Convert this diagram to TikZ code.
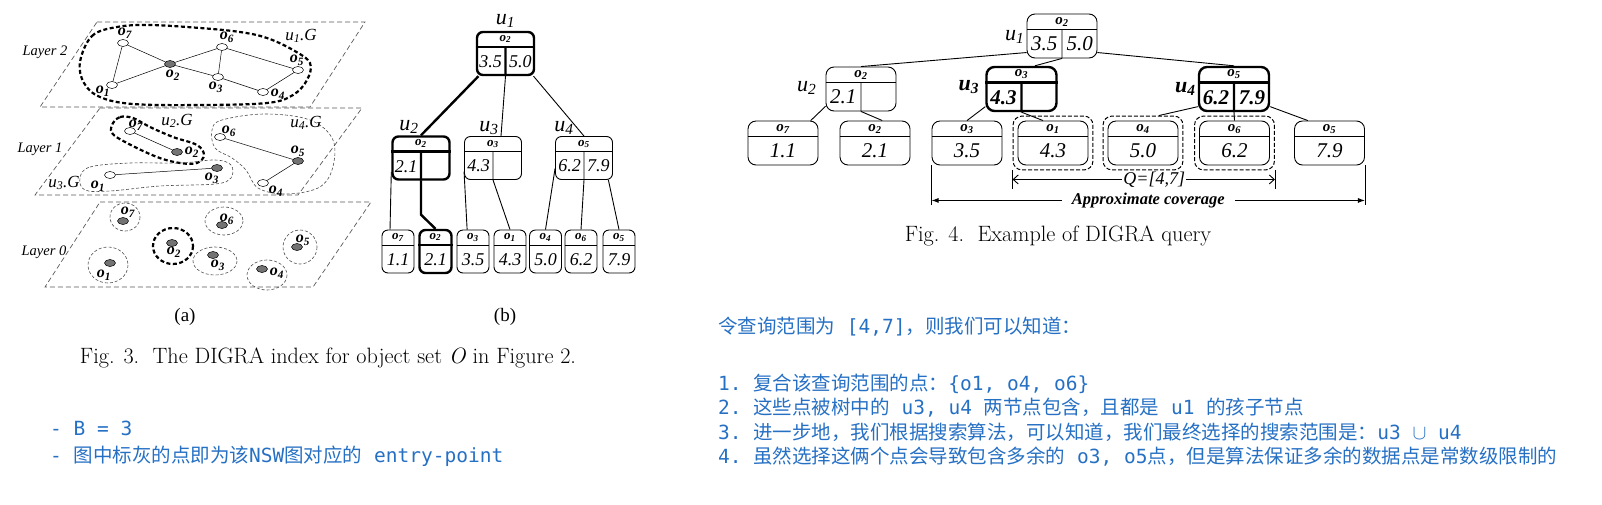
\documentclass[tikz,border=0pt]{standalone}
\usepackage{fontspec}
\usepackage{tikz}
\usetikzlibrary{arrows.meta,positioning,shapes.geometric,fit,calc}

\newfontfamily\tms{Liberation Serif}
\newfontfamily\cjk{Noto Sans CJK SC}
\newfontfamily\lat{DejaVu Sans Mono}
\definecolor{notes}{RGB}{38,112,196}

\newcommand{\os}[1]{o\textsubscript{#1}}
\newcommand{\us}[1]{u\textsubscript{#1}}

% inner tree node: name, box style, weight, centre, header, left, right
\newcommand{\treenode}[7]{%
  \node[#2,#3] (#1) at #4 {};
  \draw[#3] ($(#1.north west)!.36!(#1.south west)$) coordinate (#1-l)
    -- ($(#1.north east)!.36!(#1.south east)$) coordinate (#1-r);
  \coordinate (#1-m) at ($(#1-l)!.5!(#1-r)$);
  \draw[#3] (#1-m) -- (#1.south);
  \node[#2 hdr] (#1-h) at ($(#1.north)!.5!(#1-m)$) {#5};
  \node[#2 val] (#1-a) at ($(#1-l)!.5!(#1.south)$) {#6};
  \node[#2 val] (#1-b) at ($(#1-r)!.5!(#1.south)$) {#7};
}
% leaf: name, box style, weight, centre, header, value
\newcommand{\treeleaf}[6]{%
  \node[#2,#3] (#1) at #4 {};
  \draw[#3] ($(#1.north west)!.36!(#1.south west)$) coordinate (#1-l)
    -- ($(#1.north east)!.36!(#1.south east)$) coordinate (#1-r);
  \coordinate (#1-m) at ($(#1-l)!.5!(#1-r)$);
  \node[#2 hdr] (#1-h) at ($(#1.north)!.5!(#1-m)$) {#5};
  \node[#2 val] (#1-a) at ($(#1-m)!.5!(#1.south)$) {#6};
}

\begin{document}
\begin{tikzpicture}[x=1pt,y=-1pt,
  layer/.style={draw=black!65,dash pattern=on 5pt off 3pt,line width=0.7pt},
  pt/.style={ellipse,draw,fill=white,minimum width=11pt,minimum height=7pt,
             inner sep=0pt,line width=0.5pt},
  gpt/.style={pt,fill=black!55},
  gedge/.style={line width=0.5pt},
  olab/.style={font=\tms\bfseries\itshape\fontsize{16}{18}\selectfont,inner sep=0pt},
  glab/.style={font=\tms\itshape\fontsize{17}{19}\selectfont,inner sep=0pt},
  laylab/.style={font=\tms\itshape\fontsize{14.5}{16}\selectfont,inner sep=0pt},
  hblob/.style={line width=2.2pt,dash pattern=on 4pt off 2.5pt},
  lblob/.style={draw=black!70,line width=0.6pt,dash pattern=on 3pt off 2pt},
  lite/.style={line width=0.9pt},
  heavy/.style={line width=2.4pt},
  mnode/.style={draw,fill=white,rounded corners=6pt,minimum width=57pt,
                minimum height=43pt,inner sep=0pt},
  mleaf/.style={mnode,minimum width=32pt},
  rnode/.style={draw,fill=white,rounded corners=8pt,minimum width=70pt,
                minimum height=44pt,inner sep=0pt},
  rleaf/.style={rnode},
  mnode hdr/.style={font=\tms\bfseries\itshape\fontsize{13}{14}\selectfont,inner sep=0pt},
  mnode val/.style={font=\tms\itshape\fontsize{18}{20}\selectfont,inner sep=0pt},
  mleaf hdr/.style={mnode hdr},
  mleaf val/.style={mnode val},
  rnode hdr/.style={font=\tms\bfseries\itshape\fontsize{15}{16}\selectfont,inner sep=0pt},
  rnode val/.style={font=\tms\itshape\fontsize{21}{23}\selectfont,inner sep=0pt},
  rleaf hdr/.style={rnode hdr},
  rleaf val/.style={rnode val},
  ulab/.style={font=\tms\itshape\fontsize{22}{24}\selectfont,inner sep=0pt},
  qbox/.style={draw,rounded corners=9pt,dash pattern=on 4pt off 2pt,
               line width=1pt,inner sep=4.5pt},
  dimlab/.style={font=\tms\itshape\fontsize{18}{20}\selectfont,fill=white},
  sublab/.style={font=\tms\fontsize{19}{21}\selectfont,inner sep=0pt},
  capt/.style={font=\fontsize{22.2}{25}\selectfont,inner sep=0pt},
  note/.style={font=\cjk\fontsize{19.5}{21}\selectfont,text=notes,inner sep=0pt,anchor=west},
  bignote/.style={note,font=\cjk\fontsize{19.5}{21}\selectfont}]
\useasboundingbox (0,0) rectangle (1602,504);

% ---- (a) layered graphs
\draw[layer] (97,22) -- (365,22) -- (310,107) -- (40,107) -- cycle;
\draw[layer] (100,108) -- (362,108) -- (298,195) -- (35,195) -- cycle;
\draw[layer] (100,202) -- (371,202) -- (313,287) -- (45,287) -- cycle;
\node[laylab] (lay2) at (45,52) {Layer 2};
\node[laylab] (lay1) at (40,149) {Layer 1};
\node[laylab] (lay0) at (44,252) {Layer 0};

% layer 2
\draw[hblob] plot[smooth cycle,tension=0.6] coordinates {(80,62) (92,36) (117,27)
  (150,25) (200,28) (240,32) (267,38) (293,50) (310,63) (307,80) (293,95)
  (267,103) (200,105) (133,104) (100,97) (84,83)};
\node[glab] (g1) at (301,36) {\us{1}.G};
\node[pt] (a7) at (123,43) {};
\node[gpt] (a2) at (170,64) {};
\node[pt] (a6) at (222,47) {};
\node[pt] (a5) at (298,70) {};
\node[pt] (a3) at (218,77) {};
\node[pt] (a4) at (263,92) {};
\node[pt] (a1) at (112,85) {};
\draw[gedge] (a7) -- (a1) (a7) -- (a2) (a1) -- (a2) (a2) -- (a6) (a2) -- (a3)
  (a6) -- (a3) (a6) -- (a5) (a3) -- (a4) (a4) -- (a5);
\node[olab] (a7l) at (125,33) {\os{7}};
\node[olab] (a2l) at (173,75) {\os{2}};
\node[olab] (a6l) at (227,37) {\os{6}};
\node[olab] (a5l) at (297,60) {\os{5}};
\node[olab] (a3l) at (216,87) {\os{3}};
\node[olab] (a4l) at (278,94) {\os{4}};
\node[olab] (a1l) at (103,91) {\os{1}};

% layer 1
\draw[hblob] plot[smooth cycle,tension=0.6] coordinates {(113,123) (120,117)
  (133,118) (150,127) (173,137) (197,145) (204,155) (197,163) (180,163)
  (157,157) (127,143) (112,133)};
\draw[lblob] plot[smooth cycle,tension=0.6] coordinates {(222,120) (265,114)
  (310,120) (333,140) (332,170) (318,188) (285,194) (258,188) (246,170)
  (232,158) (215,148) (212,130)};
\draw[lblob] plot[smooth cycle,tension=0.6] coordinates {(80,178) (90,167)
  (130,163) (180,163) (215,160) (231,165) (231,178) (215,184) (160,186)
  (110,191) (85,190)};
\node[glab] (g2) at (177,121) {\us{2}.G};
\node[glab] (g4) at (306,123) {\us{4}.G};
\node[glab] (g3) at (64,183) {\us{3}.G};
\node[pt] (b7) at (130,131) {};
\node[gpt] (b2) at (177,152) {};
\node[pt] (b6) at (220,137) {};
\node[gpt] (b5) at (298,161) {};
\node[pt] (b4) at (263,183) {};
\node[pt] (b1) at (110,175) {};
\node[gpt] (b3) at (217,168) {};
\draw[gedge] (b7) -- (b2) (b1) -- (b3) (b6) -- (b5) (b5) -- (b4);
\node[olab] (b7l) at (136,125) {\os{7}};
\node[olab] (b2l) at (192,152) {\os{2}};
\node[olab] (b6l) at (229,131) {\os{6}};
\node[olab] (b5l) at (298,151) {\os{5}};
\node[olab] (b3l) at (212,178) {\os{3}};
\node[olab] (b1l) at (98,186) {\os{1}};
\node[olab] (b4l) at (276,191) {\os{4}};

% layer 0
\draw[lblob] (125,217) ellipse[x radius=15,y radius=14];
\draw[lblob] (224,221) ellipse[x radius=19,y radius=14];
\draw[hblob] (173,246) ellipse[x radius=20,y radius=18];
\draw[lblob] (300,247) ellipse[x radius=17,y radius=17];
\draw[lblob] (215,261) ellipse[x radius=22,y radius=14];
\draw[lblob] (108,265) ellipse[x radius=20,y radius=18];
\draw[lblob] (267,275) ellipse[x radius=20,y radius=15];
\node[gpt] (c7) at (123,221) {};
\node[gpt] (c6) at (222,225) {};
\node[gpt] (c2) at (172,243) {};
\node[gpt] (c5) at (297,247) {};
\node[gpt] (c3) at (213,255) {};
\node[gpt] (c1) at (110,263) {};
\node[gpt] (c4) at (262,269) {};
\node[olab] (c7l) at (128,212) {\os{7}};
\node[olab] (c6l) at (227,219) {\os{6}};
\node[olab] (c2l) at (174,252) {\os{2}};
\node[olab] (c5l) at (303,240) {\os{5}};
\node[olab] (c3l) at (218,265) {\os{3}};
\node[olab] (c1l) at (104,275) {\os{1}};
\node[olab] (c4l) at (277,273) {\os{4}};

% ---- (b) index tree
\treenode{mu1}{mnode}{heavy}{(505.5,53.5)}{\os{2}}{3.5}{5.0}
\treenode{mu2}{mnode}{heavy}{(421,158)}{\os{2}}{2.1}{}
\treenode{mu3}{mnode}{lite}{(493,158)}{\os{3}}{4.3}{}
\treenode{mu4}{mnode}{lite}{(584,158)}{\os{5}}{6.2}{7.9}
\treeleaf{ml7}{mleaf}{lite}{(398,251.5)}{\os{7}}{1.1}
\treeleaf{ml2}{mleaf}{heavy}{(435.5,251.5)}{\os{2}}{2.1}
\treeleaf{ml3}{mleaf}{lite}{(473,251.5)}{\os{3}}{3.5}
\treeleaf{ml1}{mleaf}{lite}{(510,251.5)}{\os{1}}{4.3}
\treeleaf{ml4}{mleaf}{lite}{(545.5,251.5)}{\os{4}}{5.0}
\treeleaf{ml6}{mleaf}{lite}{(581,251.5)}{\os{6}}{6.2}
\treeleaf{ml5}{mleaf}{lite}{(619,251.5)}{\os{5}}{7.9}
\node[ulab,anchor=base] (mu1t) at ([yshift=6pt]mu1.north) {\us{1}};
\node[ulab,anchor=base] (mu2t) at ([xshift=-12pt,yshift=5pt]mu2.north) {\us{2}};
\node[ulab,anchor=base] (mu3t) at ([xshift=-4pt,yshift=5pt]mu3.north) {\us{3}};
\node[ulab,anchor=base] (mu4t) at ([xshift=-20pt,yshift=5pt]mu4.north) {\us{4}};
\draw[heavy] (mu1.220) -- (mu2.north);
\draw[lite] (mu1.south) -- (mu3.70);
\draw[lite] (mu1.-39) -- (mu4.north);
\draw[lite] (mu2.205) -- (ml7.110);
\draw[heavy] (mu2.south) -- ([yshift=-34pt]mu2.south) -- (ml2.north);
\draw[lite] (mu3.205) -- (ml3.105);
\draw[lite] (mu3.south) -- (ml1.north);
\draw[lite] (mu4.200) -- (ml4.north);
\draw[lite] (mu4.south) -- (ml6.north);
\draw[lite] (mu4.-42) -- (ml5.north);
\node[sublab] (suba) at (185,317) {(a)};
\node[sublab] (subb) at (505,317) {(b)};
\node[capt] (cap3) at (328,358) {Fig. 3.\ \ The DIGRA index for object set \textit{O} in Figure 2.};

% ---- query example
\treenode{ru1}{rnode}{lite}{(1062,36)}{\os{2}}{3.5}{5.0}
\treenode{ru2}{rnode}{lite}{(861,89)}{\os{2}}{2.1}{}
\treenode{ru3}{rnode}{heavy}{(1021.5,89)}{\os{3}}{\bfseries 4.3}{}
\treenode{ru4}{rnode}{heavy}{(1234,89)}{\os{5}}{\bfseries 6.2}{\bfseries 7.9}
\treeleaf{rl7}{rleaf}{lite}{(783,143)}{\os{7}}{1.1}
\treeleaf{rl2}{rleaf}{lite}{(875,143)}{\os{2}}{2.1}
\treeleaf{rl3}{rleaf}{lite}{(967,143)}{\os{3}}{3.5}
\treeleaf{rl1}{rleaf}{lite}{(1053,143)}{\os{1}}{4.3}
\treeleaf{rl4}{rleaf}{lite}{(1143,143)}{\os{4}}{5.0}
\treeleaf{rl6}{rleaf}{lite}{(1234.5,143)}{\os{6}}{6.2}
\treeleaf{rl5}{rleaf}{lite}{(1329.5,143)}{\os{5}}{7.9}
\node[qbox,fit=(rl1)] (q1) {};
\node[qbox,fit=(rl4)] (q4) {};
\node[qbox,fit=(rl6)] (q6) {};
\node[ulab,anchor=base east] (ru1t) at ([xshift=-2pt,yshift=-4pt]ru1.west) {\us{1}};
\node[ulab,anchor=base east] (ru2t) at ([xshift=-9pt,yshift=-2pt]ru2.west) {\us{2}};
\node[ulab,anchor=base east] (ru3t) at ([xshift=-6pt,yshift=-1pt]ru3.west) {\bfseries\us{3}};
\node[ulab,anchor=base east] (ru4t) at ([xshift=-2pt,yshift=-3pt]ru4.west) {\bfseries\us{4}};
\draw[lite] (ru1.205) -- (ru2.north);
\draw[lite] (ru1.south) -- (ru3.60);
\draw[lite] (ru1.-25) -- (ru4.north);
\draw[lite] (ru2.206) -- (rl7.39);
\draw[lite] (ru2.south) -- (rl2.72);
\draw[lite] (ru3.206) -- (rl3.north);
\draw[lite] (ru3.south) -- (rl1.114);
\draw[lite] (ru4.206) -- (q4.60);
\draw[lite] (ru4.south) -- (rl6.north);
\draw[lite] (ru4.-26) -- (rl5.134);

% query range and coverage
\coordinate (qa) at ([yshift=-19pt]q1.south west);
\coordinate (qb) at ([yshift=-19pt]q6.south east);
\draw[lite] (q1.south west) -- (qa);
\draw[lite] (q6.south east) -- (qb);
\draw[lite,{Straight Barb[length=5pt,width=9pt]}-{Straight Barb[length=5pt,width=9pt]}]
  ([yshift=10pt]qa) -- ([yshift=10pt]qb)
  node[dimlab,pos=0.54,inner sep=1pt] (qtext) {Q=[4,7]};
\coordinate (ca) at ([yshift=-40pt]rl3.south west);
\coordinate (cb) at ([yshift=-40pt]rl5.south east);
\draw[lite] (rl3.south west) -- (ca);
\draw[lite] (rl5.south east) -- (cb);
\draw[lite,{Latex[length=7pt,width=5pt]}-{Latex[length=7pt,width=5pt]}]
  ([yshift=5pt]ca) -- ([yshift=5pt]cb)
  node[dimlab,pos=0.5,inner xsep=10pt,inner ysep=1pt,font=\tms\bfseries\itshape\fontsize{16.5}{18}\selectfont] (ctext) {Approximate coverage};
\node[capt] (cap4) at (1058,236) {Fig. 4.\ \ Example of DIGRA query};

% ---- notes
\node[bignote] (nb) at (50,428) {{\lat - B = 3}};
\node[bignote] (ne) at (50,456) {{\lat -\ }图中标灰的点即为该{\lat NSW}图对应的{\lat\ entry-point}};
\node[note] (nq) at (718,327) {令查询范围为{\lat\ [4,7]}，则我们可以知道：};
\node[note] (n1) at (718,384) {{\lat 1.\ }复合该查询范围的点：{\lat\{o1, o4, o6\}}};
\node[note] (n2) at (718,408) {{\lat 2.\ }这些点被树中的{\lat\ u3, u4\ }两节点包含，且都是{\lat\ u1\ }的孩子节点};
\node[note] (n3) at (718,432) {{\lat 3.\ }进一步地，我们根据搜索算法，可以知道，我们最终选择的搜索范围是：{\lat u3 $\cup$ u4}};
\node[note] (n4) at (718,457) {{\lat 4.\ }虽然选择这俩个点会导致包含多余的{\lat\ o3, o5}点，但是算法保证多余的数据点是常数级限制的};
\end{tikzpicture}
\end{document}
